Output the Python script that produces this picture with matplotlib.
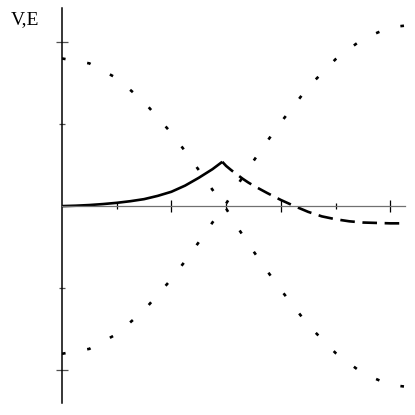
import matplotlib
matplotlib.use("Agg")
import matplotlib.pyplot as plt

# Potential / energy curves
x_dot = [0.0, 0.5, 1.0, 1.5, 2.0, 2.25, 2.5, 2.75, 3.0, 3.25, 3.5, 3.75, 4.0, 4.5, 5.0, 5.5, 6.0, 6.27]
f_dot = [1.80, 1.74, 1.56, 1.27, 0.89, 0.67, 0.44, 0.20, -0.03, -0.30, -0.55, -0.79, -1.02, -1.45, -1.79, -2.04, -2.18, -2.20]
f_dot_neg = [-v for v in f_dot]

x_solid = [0.0, 0.25, 0.5, 0.75, 1.0, 1.25, 1.5, 1.75, 2.0, 2.25, 2.5, 2.75, 2.93]
g_solid = [0.0, 0.005, 0.013, 0.025, 0.04, 0.06, 0.085, 0.125, 0.175, 0.25, 0.345, 0.45, 0.54]

x_dash = [2.93, 3.0, 3.1, 3.2, 3.3, 3.4, 3.5, 3.75, 4.0, 4.25, 4.5, 4.75, 5.0, 5.25, 5.5, 6.0, 6.27]
g_dash = [0.54, 0.49, 0.435, 0.385, 0.335, 0.29, 0.25, 0.16, 0.075, 0.0, -0.07, -0.125, -0.16, -0.185, -0.20, -0.21, -0.21]

x_major = [2, 4, 6]
x_minor = [1, 3, 5]
y_major = [-2, 2]
y_minor = [-1, 1]

plt.rcParams['lines.scale_dashes'] = False

W = 415
fig = plt.figure(figsize=(4.15, 4.15), dpi=100)
ax = fig.add_axes([62 / W, 12 / W, (405 - 62) / W, (403 - 8) / W])
ax.set_xlim(0, 6.27)
ax.set_ylim(-2.40, 2.415)

ax.plot(x_dot, f_dot, color='black', lw=1.9, linestyle=(0, (2.6, 15.8)), dash_capstyle='butt')
ax.plot(x_dot, f_dot_neg, color='black', lw=1.9, linestyle=(0, (2.6, 15.8)), dash_capstyle='butt')
ax.plot(x_solid, g_solid, color='black', lw=1.9, solid_capstyle='butt', solid_joinstyle='round')
ax.plot(x_dash, g_dash, color='black', lw=1.9, linestyle=(0, (10.5, 5.5)), dash_capstyle='butt')

for s in ['top', 'right']:
    ax.spines[s].set_visible(False)
ax.spines['left'].set_position(('data', 0))
ax.spines['bottom'].set_position(('data', 0))
ax.spines['left'].set_linewidth(1.1)
ax.spines['left'].set_color('black')
ax.spines['bottom'].set_linewidth(0.9)
ax.spines['bottom'].set_color('#707070')

ax.set_xticks(x_major)
ax.set_xticks(x_minor, minor=True)
ax.set_yticks(y_major)
ax.set_yticks(y_minor, minor=True)
ax.set_xticklabels([])
ax.set_yticklabels([])
ax.tick_params(axis='x', which='major', direction='inout', length=8, width=0.9, color='black')
ax.tick_params(axis='x', which='minor', direction='inout', length=5, width=0.9, color='black')
ax.tick_params(axis='y', which='major', direction='inout', length=8, width=0.9, color='#505050')
ax.tick_params(axis='y', which='minor', direction='inout', length=5, width=0.9, color='#505050')

fig.text(11 / W, 1 - 20 / W, 'V,E', fontsize=14, family='Liberation Serif', va='center', ha='left')

fig.savefig('out.png', dpi=100, facecolor='white')
